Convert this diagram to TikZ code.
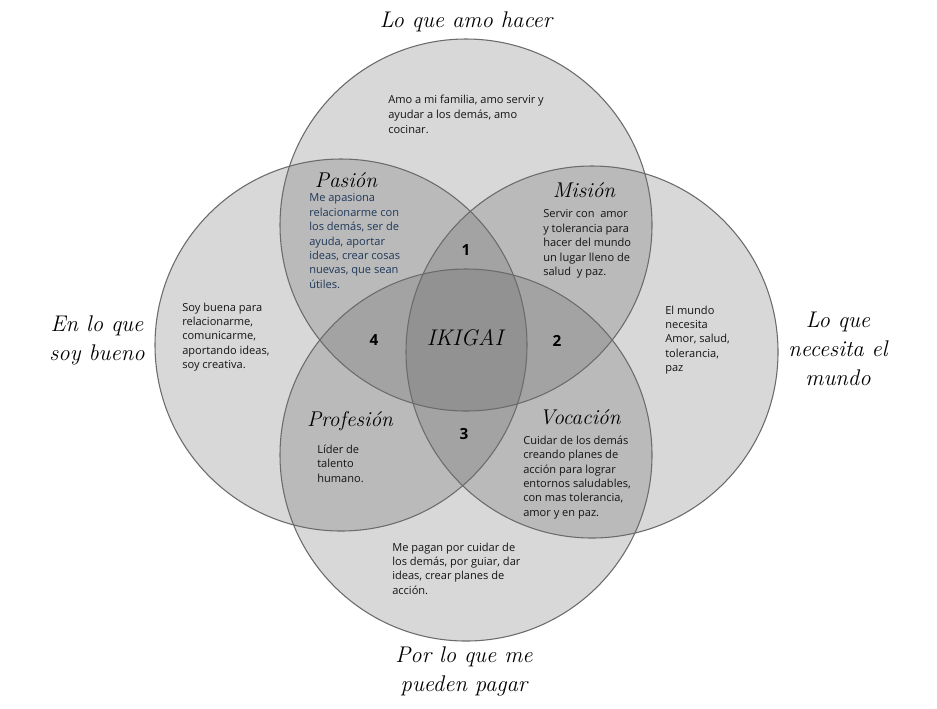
\documentclass[tikz,border=0pt]{standalone}
\usepackage{fontspec}
\setsansfont{Open Sans}
\definecolor{circfill}{gray}{0.353}
\definecolor{circline}{HTML}{6B6B6B}
\definecolor{navytext}{RGB}{31,56,90}
\tikzset{
  ring/.style={fill=circfill, fill opacity=0.23},
  ringline/.style={draw=circline, line width=0.8pt},
  body/.style={font=\sffamily\fontsize{8.3}{10.8}\selectfont, align=left, anchor=north west, inner sep=0pt, text=black!92},
  zonetitle/.style={font=\rmfamily\itshape\fontsize{16}{18}\selectfont, inner sep=0pt},
  outer/.style={font=\rmfamily\itshape\fontsize{17}{21.75}\selectfont, align=center, inner sep=0pt},
  num/.style={font=\sffamily\bfseries\fontsize{11.5}{13}\selectfont, inner sep=0pt},
}
\begin{document}
\begin{tikzpicture}[x=0.75pt,y=-0.75pt]
\useasboundingbox[fill=white] (0,0) rectangle (937,708);
% circle centres
\coordinate (cT) at (466,225);
\coordinate (cL) at (341,345);
\coordinate (cR) at (592,352);
\coordinate (cB) at (466,455);
% fills
\foreach \c in {cT,cL,cR,cB}{\fill[ring] (\c) circle[radius=139.5pt];}
\foreach \c in {cT,cL,cR,cB}{\draw[ringline] (\c) circle[radius=139.5pt];}

% outer labels
\node[outer] (lamo) at (466,22) {Lo que amo hacer};
\node[outer] (lbueno) at (97,340) {En lo que\\soy bueno};
\node[outer] (lmundo) at (838,349) {Lo que\\necesita el\\mundo};
\node[outer] (lpagar) at (464,671) {Por lo que me\\pueden pagar};

% region texts
\node[body, font=\sffamily\fontsize{8.3}{11.4}\selectfont] (tamo) at (388,94.5) {Amo a mi familia, amo servir y\\ayudar a los demás, amo\\cocinar.};
\node[zonetitle] (tpasion) at (346,180) {Pasión};
\node[body, text=navytext] (xpasion) at (309,193.5) {Me apasiona\\relacionarme con\\los demás, ser de\\ayuda, aportar\\ideas, crear cosas\\nuevas, que sean\\útiles.};
\node[zonetitle] (tmision) at (584,190) {Misión};
\node[body] (xmision) at (543,209.5) {Servir con\ \ amor\\y tolerancia para\\hacer del mundo\\un lugar lleno de\\salud\ \ y paz.};
\node[body] (xbueno) at (182,302.5) {Soy buena para\\relacionarme,\\comunicarme,\\aportando ideas,\\soy creativa.};
\node[body] (xmundo) at (665,305.5) {El mundo\\necesita\\Amor, salud,\\tolerancia,\\paz};
\node[zonetitle] (tprof) at (350,421) {Profesión};
\node[body] (xprof) at (317,444.5) {Líder de\\talento\\humano.};
\node[zonetitle] (tvoc) at (580,417) {Vocación};
\node[body] (xvoc) at (523,435.5) {Cuidar de los demás\\creando planes de\\acción para lograr\\entornos saludables,\\con mas tolerancia,\\amor y en paz.};
\node[body] (xpagan) at (392,542.5) {Me pagan por cuidar de\\los demás, por guiar, dar\\ideas, crear planes de\\acción.};

% centre and numbers
\node[zonetitle, font=\rmfamily\itshape\fontsize{17}{20}\selectfont] (ikigai) at (465,338) {IKIGAI};
\node[num] (n1) at (466,250) {1};
\node[num] (n2) at (557,341) {2};
\node[num] (n3) at (464,434) {3};
\node[num] (n4) at (374,340) {4};
\end{tikzpicture}
\end{document}
